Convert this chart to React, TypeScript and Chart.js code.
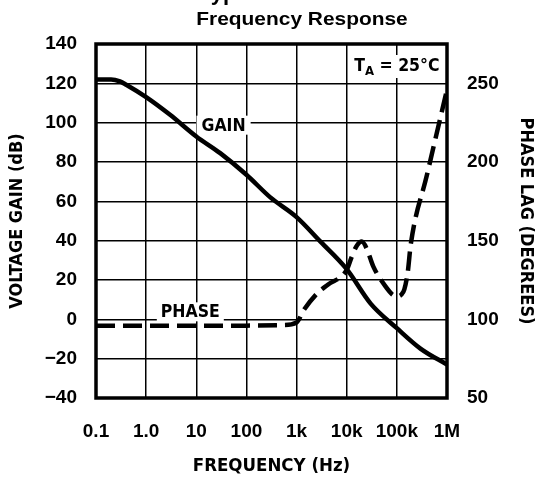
import React, { useEffect, useRef } from 'react';
import { Chart, registerables } from 'chart.js';

Chart.register(...registerables);

// ---- Data ----
const xTickValues = [0.1, 1, 10, 100, 1e3, 1e4, 1e5, 1e6];
const xTickLabels = ['0.1', '1.0', '10', '100', '1k', '10k', '100k', '1M'];
const yTickLabels = ['\u221240', '\u221220', '0', '20', '40', '60', '80', '100', '120', '140'];
const y2TickValues = [50, 100, 150, 200, 250];

const gainFreq = [0.1, 0.2, 0.3, 0.4, 1, 3, 10, 30, 100, 300, 1e3, 3e3, 1e4, 3e4, 1e5, 3e5, 1e6];
const gainDb = [122, 122, 121, 119.3, 113, 104, 93, 84.5, 73.5, 62, 52, 39.5, 25.5, 8, -4.5, -15, -23];

const phaseFreq = [0.1, 1, 10, 100, 500, 1000, 1400, 2600, 4200, 10000, 12600, 16000, 20000, 25000, 34000, 63000, 80000, 100000, 125000, 141000, 165000, 190000, 400000, 1000000];
const phaseDeg = [96, 96, 96, 96, 96.3, 98, 106, 116.6, 122, 131.4, 139.8, 147, 149.4, 145, 133.5, 119.8, 116, 114.5, 116, 119, 130, 148, 192, 246];

const COND = "'DejaVu Sans Condensed', 'Liberation Sans', sans-serif";
const SANS = "'Liberation Sans', Arial, sans-serif";

const annotationPlugin = {
  id: 'annotations',
  beforeDatasetsDraw(chart: any) {
    const { ctx, scales } = chart;
    const x = scales.x;
    const y = scales.y;
    ctx.save();
    ctx.fillStyle = '#000';
    ctx.textBaseline = 'alphabetic';
    ctx.textAlign = 'left';
    const font = `bold 17.5px ${COND}`;

    const drawLabel = (text: string, cx: number, baseline: number, padX: number) => {
      ctx.font = font;
      const w = ctx.measureText(text).width;
      ctx.fillStyle = '#fff';
      ctx.fillRect(cx - w / 2 - padX, baseline - 15, w + padX * 2, 19);
      ctx.fillStyle = '#000';
      ctx.fillText(text, cx - w / 2, baseline);
    };

    drawLabel('GAIN', x.getPixelForValue(35), y.getPixelForValue(100) + 8, 5);
    drawLabel('PHASE', x.getPixelForValue(7.6), y.getPixelForValue(0) - 2, 4);

    // T_A = 25°C
    const tx = x.getPixelForValue(1e5);
    const tb = y.getPixelForValue(140) + 27;
    ctx.font = font;
    const wT = ctx.measureText('T').width;
    const rest = ' = 25\u00B0C';
    const wR = ctx.measureText(rest).width;
    ctx.font = `bold 13px ${COND}`;
    const wA = ctx.measureText('A').width;
    const total = wT + wA + wR;
    const sx = tx - total / 2;
    ctx.fillStyle = '#fff';
    ctx.fillRect(sx - 4, tb - 16, total + 8, 23);
    ctx.fillStyle = '#000';
    ctx.font = font;
    ctx.fillText('T', sx, tb);
    ctx.font = `bold 13px ${COND}`;
    ctx.fillText('A', sx + wT, tb + 4);
    ctx.font = font;
    ctx.fillText(rest, sx + wT + wA, tb);
    ctx.restore();
  },
  afterDraw(chart: any) {
    const { ctx, chartArea } = chart;
    ctx.save();
    ctx.strokeStyle = '#000';
    ctx.lineWidth = 3.5;
    ctx.strokeRect(chartArea.left, chartArea.top, chartArea.right - chartArea.left, chartArea.bottom - chartArea.top);

    ctx.fillStyle = '#000';
    ctx.textBaseline = 'alphabetic';
    ctx.textAlign = 'left';
    ctx.font = `bold 22px ${SANS}`;
    ctx.fillText('Typical Performance Characteristics', 199, 0);

    ctx.translate(302, 25);
    ctx.scale(1.1, 1);
    ctx.textAlign = 'center';
    ctx.font = `bold 19px ${SANS}`;
    ctx.fillText('Frequency Response', 0, 0);
    ctx.restore();
  },
};

export default function App() {
  const canvasRef = useRef<HTMLCanvasElement | null>(null);

  useEffect(() => {
    if (!canvasRef.current) return;
    const tickFont = { family: SANS, size: 19, weight: 'bold' as const };
    const yTitleFont = { family: COND, size: 18, weight: 'bold' as const, lineHeight: 1 };
    const xTitleFont = { family: COND, size: 18.5, weight: 'bold' as const, lineHeight: 1 };

    const chart = new Chart(canvasRef.current, {
      type: 'line',
      data: {
        datasets: [
          {
            label: 'GAIN',
            data: gainFreq.map((f, i) => ({ x: f, y: gainDb[i] })),
            yAxisID: 'y',
            borderColor: '#000',
            borderWidth: 4.5,
            pointRadius: 0,
            fill: false,
            cubicInterpolationMode: 'monotone',
          },
          {
            label: 'PHASE',
            data: phaseFreq.map((f, i) => ({ x: f, y: phaseDeg[i] })),
            yAxisID: 'y2',
            borderColor: '#000',
            borderWidth: 4.5,
            borderDash: [19, 8],
            pointRadius: 0,
            fill: false,
            cubicInterpolationMode: 'monotone',
          },
        ],
      },
      options: {
        responsive: false,
        animation: false,
        layout: { padding: { top: 44, left: 0, right: 0, bottom: 0 } },
        plugins: {
          legend: { display: false },
          tooltip: { enabled: false },
          title: { display: false },
        },
        scales: {
          x: {
            type: 'logarithmic',
            position: 'bottom',
            min: 0.1,
            max: 1e6,
            afterBuildTicks: (s: any) => {
              s.ticks = xTickValues.map((v) => ({ value: v }));
            },
            afterFit: (s: any) => {
              s.height = 82;
            },
            ticks: {
              autoSkip: false,
              maxRotation: 0,
              minRotation: 0,
              padding: 22,
              color: '#000',
              font: tickFont,
              callback: (_v: any, i: number) => xTickLabels[i],
            },
            grid: { color: '#000', lineWidth: 1.5, drawTicks: false },
            border: { display: false },
            title: {
              display: true,
              text: 'FREQUENCY (Hz)',
              color: '#000',
              font: xTitleFont,
              padding: { top: 0, bottom: 5 },
            },
          },
          y: {
            position: 'left',
            min: -40,
            max: 140,
            afterFit: (s: any) => {
              s.width = 96;
            },
            ticks: {
              stepSize: 20,
              padding: 19,
              color: '#000',
              font: tickFont,
              callback: (_v: any, i: number) => yTickLabels[i],
            },
            grid: { color: '#000', lineWidth: 1.5, drawTicks: false },
            border: { display: false },
            title: {
              display: true,
              text: 'VOLTAGE GAIN (dB)',
              color: '#000',
              font: yTitleFont,
              padding: { top: 8, bottom: 0 },
            },
          },
          y2: {
            position: 'right',
            min: 50,
            max: 275,
            afterBuildTicks: (s: any) => {
              s.ticks = y2TickValues.map((v) => ({ value: v }));
            },
            afterFit: (s: any) => {
              s.width = 90;
            },
            ticks: {
              padding: 20,
              color: '#000',
              font: tickFont,
              callback: (v: any) => String(v),
            },
            grid: { display: false, drawTicks: false },
            border: { display: false },
            title: {
              display: true,
              text: 'PHASE LAG (DEGREES)',
              color: '#000',
              font: yTitleFont,
              padding: { top: 2.5, bottom: 0 },
            },
          },
        },
      } as any,
      plugins: [annotationPlugin],
    });
    return () => chart.destroy();
  }, []);

  return (
    <div style={{ position: 'absolute', left: 0, top: 0, width: 537, height: 480, background: '#fff' }}>
      <canvas ref={canvasRef} width={537} height={480} style={{ display: 'block' }} />
    </div>
  );
}
